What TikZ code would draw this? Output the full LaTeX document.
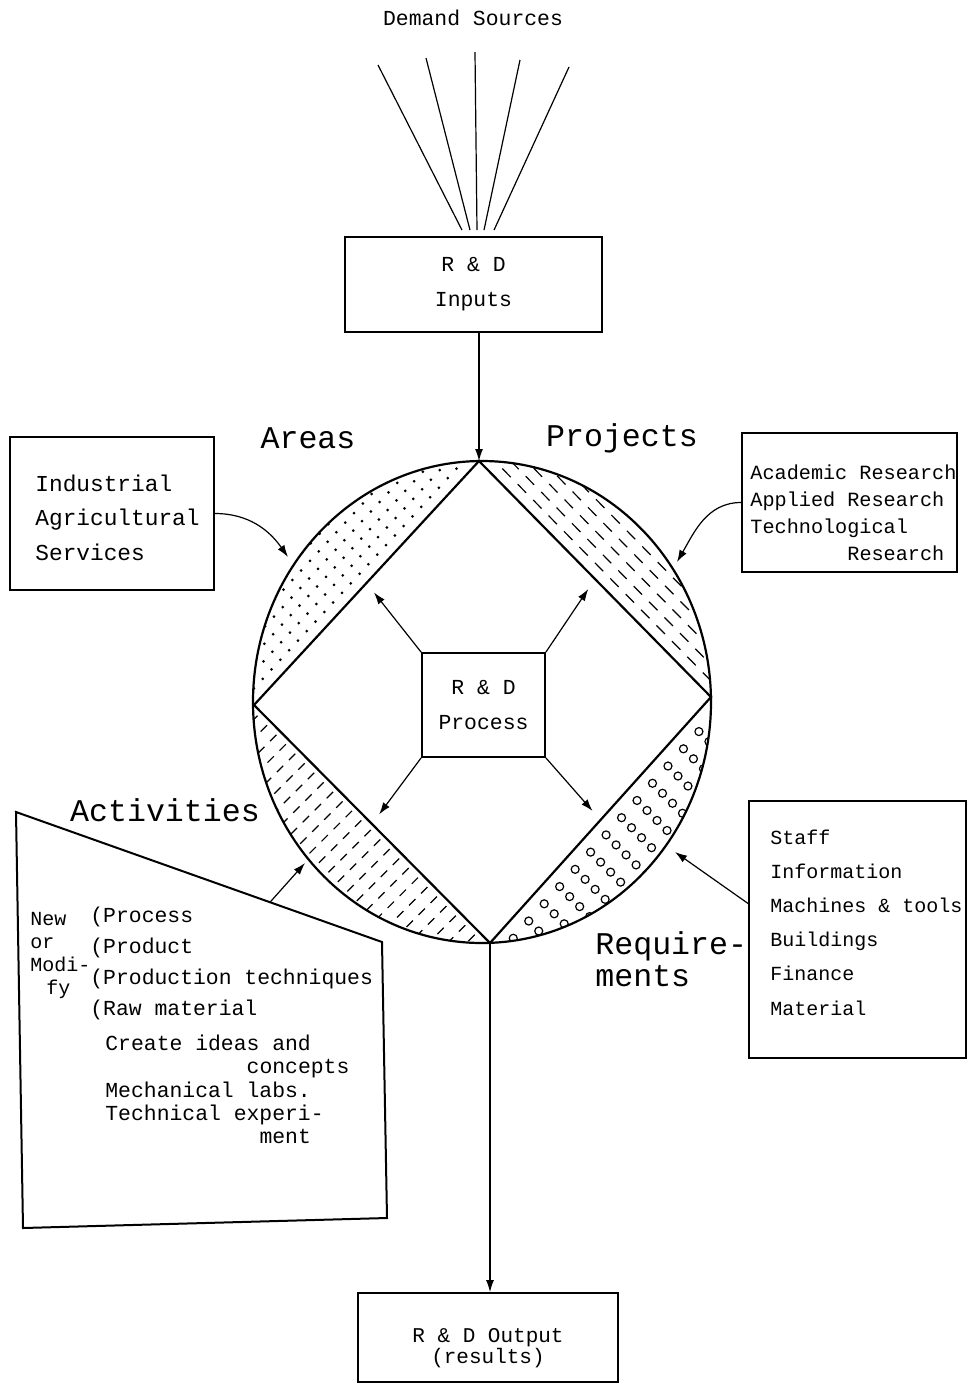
\documentclass[tikz,border=0pt]{standalone}
\usepackage{fontspec}
\setmainfont{Liberation Mono}
\usetikzlibrary{arrows.meta, calc}

\begin{document}
\begin{tikzpicture}[
  x=0.5pt, y=-0.5pt,
  box/.style={draw, line width=0.9pt, inner sep=0pt},
  txt/.style={font=\fontsize{10.7pt}{17.5pt}\selectfont},
  bigtxt/.style={font=\fontsize{15.8pt}{16pt}\selectfont},
  plain/.style={inner sep=0pt, align=left, anchor=west},
  arr/.style={-{Latex[length=6pt,width=4pt]}, line width=0.6pt},
  ray/.style={line width=0.6pt},
  rim/.style={line width=1.1pt},
  dotrow/.style={line width=1.5pt, line cap=round, dash pattern=on 0pt off 6.5pt},
  dashrow/.style={line width=0.6pt, dash pattern=on 6pt off 5pt},
  tickrow/.style={line width=0.6pt, dash pattern=on 4.5pt off 4pt, dash phase=6pt},
  ring/.style={line width=0.6pt},
]
\useasboundingbox (0,0) rectangle (972,1389);

% Demand sources and inputs
\node[txt] (dem) at (473,18) {Demand Sources};
\node[box, txt, align=center, minimum width=128.5pt, minimum height=47.5pt] (inp) at (473.5,284.5) {R \& D\\Inputs};
\coordinate (ds1) at (378,65);
\coordinate (ds2) at (426,58);
\coordinate (ds3) at (475,52);
\coordinate (ds4) at (520,60);
\coordinate (ds5) at (569,67);
\draw[ray] (ds1) -- ($(inp.north)+(-11.5,-6)$);
\draw[ray] (ds2) -- ($(inp.north)+(-3.5,-6)$);
\draw[ray] (ds3) -- ($(inp.north)+(3.5,-6)$);
\draw[ray] (ds4) -- ($(inp.north)+(10.5,-6)$);
\draw[ray] (ds5) -- ($(inp.north)+(20.5,-6)$);

% Circle and square
\coordinate (C) at (482,702);
\coordinate (T) at (479,461);
\coordinate (R) at (711,697);
\coordinate (B) at (490,943);
\coordinate (L) at (254,705);

% Areas: dots
\coordinate (tl1) at ($(L)!-0.2!(T)$);
\coordinate (tl2) at ($(T)!-0.2!(L)$);
\begin{scope}
  \clip (C) ellipse [x radius=229, y radius=241];
  \clip (T) -- (L) -- (200,705) -- (200,400) -- (479,400) -- cycle;
  \foreach \k in {1,...,9}
    \draw[dotrow] ($(tl1)+\k*(-8,-8)$) -- ($(tl2)+\k*(-8,-8)$);
\end{scope}

% Projects: dashes
\coordinate (tr1) at ($(T)!-0.2!(R)$);
\coordinate (tr2) at ($(R)!-0.2!(T)$);
\begin{scope}
  \clip (C) ellipse [x radius=229, y radius=241];
  \clip (T) -- (R) -- (760,697) -- (760,400) -- (479,400) -- cycle;
  \foreach \k in {1,...,8}
    \draw[dashrow] ($(tr1)+\k*(8,-8)$) -- ($(tr2)+\k*(8,-8)$);
\end{scope}

% Activities: ticks
\begin{scope}
  \clip (C) ellipse [x radius=229, y radius=241];
  \clip (L) -- (B) -- (490,990) -- (200,990) -- (200,705) -- cycle;
  \foreach \t in {0.03,0.07,...,0.99}
    \draw[tickrow] ($(L)!\t!(B)$) -- ++(-100,100);
\end{scope}

% Requirements: rings
\begin{scope}
  \clip (C) ellipse [x radius=229, y radius=241];
  \clip (B) -- (R) -- (760,697) -- (760,990) -- (490,990) -- cycle;
  \foreach \t in {0.06,0.13,...,0.98}
    \foreach \j in {1,...,5}
      \draw[ring] ($(B)!\t!(R)+\j*(10,10)$) circle [radius=2pt];
\end{scope}

\draw[rim] (C) ellipse [x radius=229, y radius=241];
\draw[rim] (T) -- (R) -- (B) -- (L) -- cycle;

% Process box and arrows
\node[box, txt, align=center, minimum width=61.5pt, minimum height=52pt] (proc) at (483.5,705) {R \& D\\Process};
\coordinate (pa) at ($(L)!0.5!(T)$);
\coordinate (pb) at ($(T)!0.5!(R)$);
\coordinate (pc) at ($(L)!0.5!(B)$);
\coordinate (pd) at ($(B)!0.5!(R)$);
\draw[arr, shorten >=6pt] (proc.north west) -- (pa);
\draw[arr, shorten >=6pt] (proc.north east) -- (pb);
\draw[arr, shorten >=6pt] (proc.south west) -- (pc);
\draw[arr, shorten >=6pt] (proc.south east) -- (pd);
\draw[arr] (inp.south -| T) -- (T);

% Labels
\node[bigtxt] (areas) at (308,438) {Areas};
\node[bigtxt] (projs) at (622,438) {Projects};
\node[bigtxt] (acts) at (165,810) {Activities};
\node[bigtxt, plain] (reqs) at (595,959) {Require-\\ments};

% Areas box
\node[box, minimum width=102pt, minimum height=76.5pt] (ind) at (112,513.5) {};
\node[plain, font=\fontsize{11.4pt}{17.25pt}\selectfont] (indtxt) at (35,517.5) {Industrial\\Agricultural\\Services};
\coordinate (aa) at (288,557);
\draw[arr] (ind.east) to[out=0, in=125] (aa);

% Projects box
\node[box, minimum width=107.5pt, minimum height=69.5pt] (prj) at (849.5,502.5) {};
\node[plain, font=\fontsize{10.1pt}{13.5pt}\selectfont] (prjtxt) at (750,512.5)
  {Academic Research\\Applied Research\\Technological\\\phantom{Technolo}Research};
\coordinate (pj) at (677,562);
\draw[arr] (prj.west) to[out=180, in=60] (pj);

% Requirements box
\node[box, minimum width=108.5pt, minimum height=128.5pt] (req) at (857.5,929.5) {};
\node[plain, font=\fontsize{10pt}{17.1pt}\selectfont] (reqtxt) at (770,922.5)
  {Staff\\Information\\Machines \& tools\\Buildings\\Finance\\Material};
\coordinate (rq) at (675,852);
\draw[arr] ([yshift=13pt]req.west) -- (rq);

% Activities box
\coordinate (ac1) at (16,812);
\coordinate (ac2) at (382,942);
\coordinate (ac3) at (387,1218);
\coordinate (ac4) at (23,1228);
\draw[line width=1pt] (ac1) -- (ac2) -- (ac3) -- (ac4) -- cycle;
\node[plain, font=\fontsize{10pt}{11.5pt}\selectfont] (newmod) at (30,955)
  {New\\or\\Modi-\\\hspace*{8pt}fy};
\node[plain, font=\fontsize{10.7pt}{15.5pt}\selectfont] (actlist) at (90,963.5)
  {(Process\\(Product\\(Production techniques\\(Raw material};
\node[plain, font=\fontsize{10.7pt}{11.6pt}\selectfont] (actmore) at (105,1089.5)
  {Create ideas and\\\phantom{Create idea}concepts\\Mechanical labs.\\Technical experi-\\\phantom{Technical ex}ment};
\coordinate (ae) at ($(ac1)!0.694!(ac2)$);
\coordinate (at) at (305,863);
\draw[arr] (ae) -- (at);

% Output
\node[box, minimum width=130pt, minimum height=44.5pt] (out) at (488,1337.5) {};
\node[font=\fontsize{10.5pt}{9.5pt}\selectfont, align=center, inner sep=0pt] (outtxt) at (488,1348) {R \& D Output\\(results)};
\draw[arr] (B) -- (B |- out.north);

\end{tikzpicture}
\end{document}
